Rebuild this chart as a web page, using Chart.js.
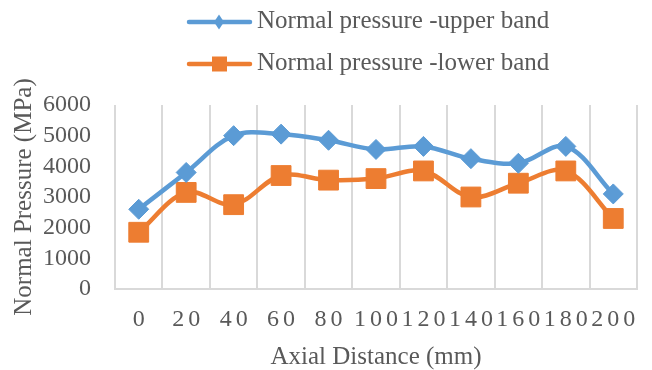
<!DOCTYPE html>
<html>
<head>
<meta charset="utf-8">
<script src="https://cdn.jsdelivr.net/npm/chart.js@4/dist/chart.umd.min.js"></script>
<style>
  html, body { margin: 0; padding: 0; background: #ffffff; }
  #wrap { width: 652px; height: 370px; }
</style>
</head>
<body>
<div id="wrap"><canvas id="c" width="652" height="370"></canvas></div>
<script>
// Axial positions along the part (mm)
const distances = ['0', '20', '40', '60', '80', '100', '120', '140', '160', '180', '200'];
// Normal pressure (MPa) on each band
const upperBand = [2600, 3800, 5000, 5050, 4850, 4550, 4650, 4250, 4100, 4650, 3100];
const lowerBand = [1850, 3150, 2750, 3700, 3550, 3600, 3850, 3000, 3450, 3850, 2300];
const seriesNames = ['Normal pressure -upper band', 'Normal pressure -lower band'];
const yMin = 0, yMax = 6000, yStep = 1000;

const SERIF = "'Liberation Serif', 'Times New Roman', serif";
const TEXT = '#595959';
const GRID = '#D9D9D9';
const BLUE = '#5B9BD5';
const ORANGE = '#ED7D31';

// Category labels with the wide character spacing of the axis
const spacedTicks = {
  id: 'spacedTicks',
  afterDraw(chart) {
    const x = chart.scales.x;
    const ctx = chart.ctx;
    const spacing = 4;
    ctx.save();
    ctx.font = '24px ' + SERIF;
    ctx.fillStyle = TEXT;
    ctx.textBaseline = 'middle';
    ctx.textAlign = 'left';
    const hasSpacing = 'letterSpacing' in ctx;
    if (hasSpacing) ctx.letterSpacing = spacing + 'px';
    distances.forEach((label, i) => {
      const cx = x.getPixelForTick(i);
      let w = ctx.measureText(label).width;
      if (hasSpacing) w -= spacing;
      ctx.fillText(label, cx - w / 2, x.bottom - 50);
    });
    ctx.restore();
  }
};

// Two-row legend: line sample with its marker, then the series name
const stackedLegend = {
  id: 'stackedLegend',
  afterDraw(chart) {
    const ctx = chart.ctx;
    const rows = [22, 64];
    ctx.save();
    chart.data.datasets.forEach((ds, i) => {
      const y = rows[i];
      ctx.strokeStyle = ds.borderColor;
      ctx.lineWidth = 4.5;
      ctx.lineCap = 'round';
      ctx.beginPath();
      ctx.moveTo(189, y);
      ctx.lineTo(250, y);
      ctx.stroke();
      ctx.fillStyle = ds.borderColor;
      ctx.beginPath();
      if (ds.pointStyle === 'rectRot') {
        ctx.moveTo(219, y - 7.5);
        ctx.lineTo(224, y);
        ctx.lineTo(219, y + 7.5);
        ctx.lineTo(214, y);
        ctx.closePath();
      } else {
        ctx.rect(212, y - 7.5, 15, 15);
      }
      ctx.fill();
      ctx.font = '25px ' + SERIF;
      ctx.fillStyle = TEXT;
      ctx.textBaseline = 'middle';
      ctx.textAlign = 'left';
      ctx.fillText(ds.label, 257, y - 1);
    });
    ctx.restore();
  }
};

new Chart(document.getElementById('c'), {
  type: 'line',
  data: {
    labels: distances,
    datasets: [
      {
        label: seriesNames[0],
        data: upperBand,
        borderColor: BLUE,
        backgroundColor: BLUE,
        borderWidth: 4.5,
        tension: 0.35,
        pointStyle: 'rectRot',
        pointRadius: 10,
        pointBorderWidth: 1,
        pointBackgroundColor: BLUE,
        pointBorderColor: BLUE,
        fill: false
      },
      {
        label: seriesNames[1],
        data: lowerBand,
        borderColor: ORANGE,
        backgroundColor: ORANGE,
        borderWidth: 4.5,
        tension: 0.35,
        pointStyle: 'rect',
        pointRadius: 14,
        pointBorderWidth: 1,
        pointBackgroundColor: ORANGE,
        pointBorderColor: ORANGE,
        fill: false
      }
    ]
  },
  options: {
    responsive: false,
    animation: false,
    devicePixelRatio: 1,
    layout: { padding: { top: 105, right: 8, left: 0, bottom: 0 } },
    plugins: {
      legend: { display: false },
      tooltip: { enabled: false }
    },
    scales: {
      x: {
        type: 'category',
        offset: true,
        grid: { display: true, offset: true, color: GRID, lineWidth: 2, drawTicks: false },
        border: { display: true, color: GRID, width: 2 },
        ticks: { display: false },
        title: {
          display: true,
          text: 'Axial Distance (mm)',
          color: TEXT,
          font: { family: SERIF, size: 25, lineHeight: 1 },
          padding: { top: 0, bottom: 0 }
        },
        afterFit(scale) { scale.height = 81; }
      },
      y: {
        min: yMin,
        max: yMax,
        grid: { display: false, drawTicks: false },
        border: { display: false },
        ticks: {
          stepSize: yStep,
          autoSkip: false,
          color: TEXT,
          padding: 24,
          font: { family: SERIF, size: 24, lineHeight: 1 },
          callback: (v) => String(v)
        },
        title: {
          display: true,
          text: 'Normal Pressure (MPa)',
          color: TEXT,
          font: { family: SERIF, size: 25, lineHeight: 1.2 },
          padding: { top: 9, bottom: 0 }
        },
        afterFit(scale) { scale.width = 115; }
      }
    }
  },
  plugins: [spacedTicks, stackedLegend]
});
</script>
</body>
</html>
